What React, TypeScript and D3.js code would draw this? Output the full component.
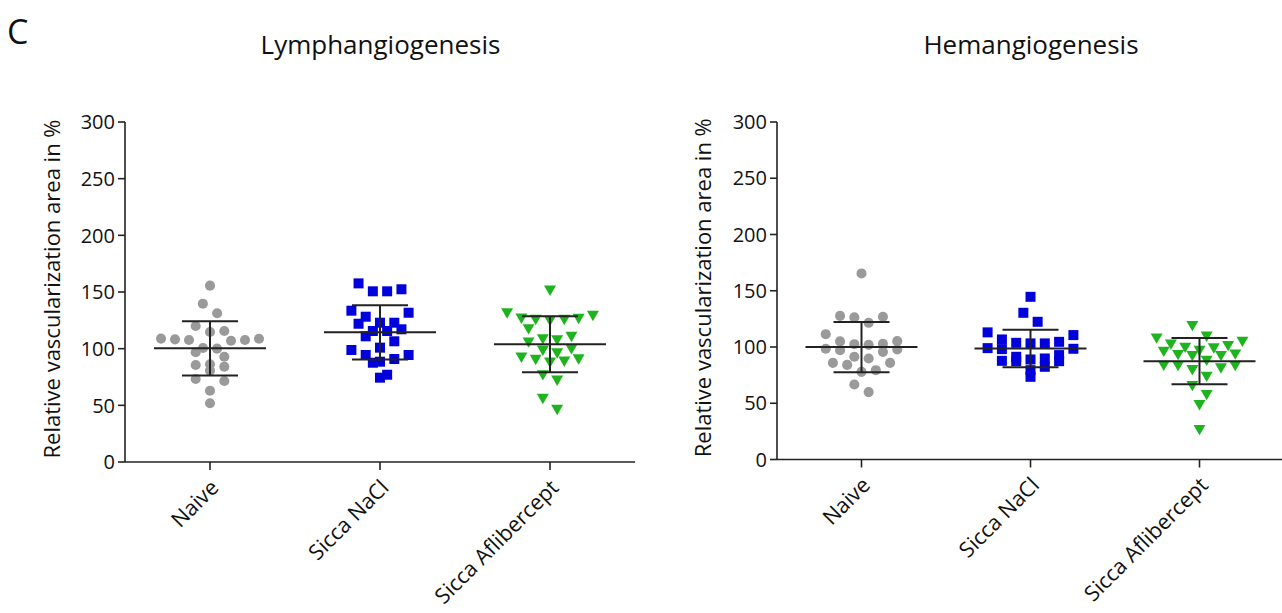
import React from "react";
import * as d3 from "d3";

const categories = ["Naive", "Sicca NaCl", "Sicca Aflibercept"];
const yTicks = [0, 50, 100, 150, 200, 250, 300];
const panelTitles = ["Lymphangiogenesis", "Hemangiogenesis"];

const lymphNaive = [155.6, 139.7, 131.2, 120, 114.7, 115.6, 108.9, 108.2, 107.6, 107, 107.6, 108.8, 100.6, 100, 96.8, 92.9, 86.2, 84.1, 85.6, 80.6, 73.2, 71.5, 62.9, 51.8];
const lymphNaCl = [157.6, 150.6, 150.6, 152.4, 133.5, 131.7, 128.2, 122.9, 122, 122.9, 115.6, 115.6, 117.1, 110.9, 106.5, 100.9, 98.8, 94.4, 94.4, 88.5, 87.6, 90.9, 74.4, 77];
const lymphAfli = [152.6, 132.6, 130.3, 127.7, 126.8, 125.9, 126.8, 127.9, 118.5, 111.8, 108.8, 106.8, 109.7, 99.7, 100.9, 97.3, 93.5, 91.5, 89.1, 90, 92, 77.9, 73.2, 57.1, 47.4];
const lymphMean = [100.3, 114.4, 103.8];
const lymphSD = [24, 24, 24.7];

const hemNaive = [165.4, 127.7, 126.3, 126.8, 121.5, 111.4, 105.2, 102.5, 98.4, 97.2, 91.3, 95.7, 97.8, 101.9, 102.8, 105, 89.8, 85.9, 84.1, 85.9, 79.4, 77.9, 66.7, 59.9];
const hemNaCl = [144.6, 130.4, 122.4, 113, 110.6, 106.7, 103.7, 103.2, 103.2, 104.6, 99, 98.1, 98.4, 91.3, 88.9, 87.4, 87.4, 87.7, 89.8, 92.8, 82.4, 79.4, 73.5];
const hemAfli = [120.1, 110.6, 109, 106.1, 102.3, 100.2, 97.2, 94.3, 93.4, 93.4, 94.8, 98.1, 100.8, 103.7, 89.2, 84.5, 82.4, 80.9, 84.5, 84.8, 75, 66.7, 58.7, 49.8, 27.6];
const hemMean = [99.9, 98.7, 87.4];
const hemSD = [22.4, 16.6, 20.5];

const FONT = "'Open Sans', 'Noto Sans', sans-serif";
const AXIS = "#222";
const colors = ["#9a9a9a", "#0000dc", "#1fb41f"];
const symbols = [d3.symbolCircle, d3.symbolSquare, d3.symbolTriangle];
const symbolSizes = [80, 100, 62];

// Prism-like row scatter: points within a row height share a row, spread symmetrically,
// lowest value nearest the centre, alternating right/left outward.
function rowSwarm(values: number[], y: (v: number) => number, H: number, step: number, maxHalf: number) {
  const order = values.map((v, i) => i).sort((a, b) => values[b] - values[a]);
  const bins: number[][] = [];
  let top = -Infinity;
  for (const i of order) {
    const py = y(values[i]);
    if (bins.length === 0 || py - top > H) {
      bins.push([i]);
      top = py;
    } else bins[bins.length - 1].push(i);
  }
  const xs = new Array(values.length).fill(0);
  for (const bin of bins) {
    const n = bin.length;
    const sp = n > 1 ? Math.min(step, (2 * maxHalf) / (n - 1)) : 0;
    const pos = d3.range(n).map((k) => (k - (n - 1) / 2) * sp);
    pos.sort((a, b) => Math.abs(a) - Math.abs(b) || b - a);
    const members = [...bin].sort((a, b) => values[a] - values[b]);
    members.forEach((idx, k) => (xs[idx] = pos[k]));
  }
  return xs;
}

type PanelProps = {
  title: string;
  titleX: number;
  groups: number[][];
  means: number[];
  sds: number[];
  xRange: [number, number];
  yRange: [number, number];
  yLabelX: number;
};

function Panel({ title, titleX, groups, means, sds, xRange, yRange, yLabelX }: PanelProps) {
  const x = d3.scaleBand<string>().domain(categories).range(xRange).paddingInner(0).paddingOuter(0);
  const y = d3.scaleLinear().domain([0, 300]).range(yRange);
  const x0 = xRange[0];
  const yBase = y(0);
  const center = (c: string) => (x(c) as number) + x.bandwidth() / 2;
  return (
    <g>
      <text x={titleX} y={54} textAnchor="middle" fontFamily={FONT} fontSize={26} fill="#111">
        {title}
      </text>
      <line x1={x0} x2={x0} y1={y(300)} y2={yBase} stroke={AXIS} strokeWidth={1.6} />
      {yTicks.map((t) => (
        <g key={t}>
          <line x1={x0 - 7} x2={x0} y1={y(t)} y2={y(t)} stroke={AXIS} strokeWidth={1.6} />
          <text x={x0 - 10} y={y(t)} dy="0.36em" textAnchor="end" fontFamily={FONT} fontSize={20} fill="#111">
            {t}
          </text>
        </g>
      ))}
      <text
        transform={`translate(${yLabelX},${(y(0) + y(300)) / 2 - 3}) rotate(-90)`}
        textAnchor="middle"
        fontFamily={FONT}
        fontSize={22}
        fill="#111"
      >
        Relative vascularization area in %
      </text>
      <line x1={x0} x2={xRange[1]} y1={yBase} y2={yBase} stroke={AXIS} strokeWidth={1.6} />
      {categories.map((c) => (
        <g key={c}>
          <line x1={center(c)} x2={center(c)} y1={yBase} y2={yBase + 8} stroke={AXIS} strokeWidth={1.6} />
          <text
            transform={`translate(${center(c) + 10},${yBase + 27}) rotate(-45)`}
            textAnchor="end"
            fontFamily={FONT}
            fontSize={21.5}
            fill="#111"
          >
            {c}
          </text>
        </g>
      ))}
      {groups.map((vals, gi) => {
        const cx = center(categories[gi]);
        const offs = rowSwarm(vals, (v) => y(v), 12.4, 14.3, 49);
        const path = d3.symbol().type(symbols[gi]).size(symbolSizes[gi])() as string;
        return (
          <g key={gi}>
            {vals.map((v, i) => (
              <path
                key={i}
                d={path}
                transform={`translate(${cx + offs[i]},${y(v)})${gi === 2 ? " rotate(180)" : ""}`}
                fill={colors[gi]}
              />
            ))}
          </g>
        );
      })}
      {categories.map((c, gi) => {
        const cx = center(c);
        const m = means[gi];
        const s = sds[gi];
        return (
          <g key={c} stroke={AXIS} strokeWidth={2}>
            <line x1={cx - 56} x2={cx + 56} y1={y(m)} y2={y(m)} />
            <line x1={cx} x2={cx} y1={y(m + s)} y2={y(m - s)} />
            <line x1={cx - 28} x2={cx + 28} y1={y(m + s)} y2={y(m + s)} />
            <line x1={cx - 28} x2={cx + 28} y1={y(m - s)} y2={y(m - s)} />
          </g>
        );
      })}
    </g>
  );
}

export default function App() {
  return (
    <svg width={1282} height={613} style={{ position: "absolute", left: 0, top: 0, background: "#fff" }}>
      <rect width={1282} height={613} fill="#fff" />
      <text x={7} y={44} fontFamily={FONT} fontSize={34} fill="#111">
        C
      </text>
      <Panel
        title={panelTitles[0]}
        titleX={380.5}
        groups={[lymphNaive, lymphNaCl, lymphAfli]}
        means={lymphMean}
        sds={lymphSD}
        xRange={[125, 635]}
        yRange={[462, 122]}
        yLabelX={60}
      />
      <Panel
        title={panelTitles[1]}
        titleX={1031}
        groups={[hemNaive, hemNaCl, hemAfli]}
        means={hemMean}
        sds={hemSD}
        xRange={[777, 1284]}
        yRange={[459.5, 122]}
        yLabelX={711}
      />
    </svg>
  );
}
